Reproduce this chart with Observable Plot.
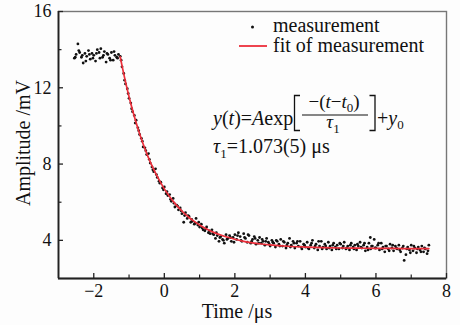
<!DOCTYPE html>
<html>
<head>
<meta charset="utf-8">
<script src="https://cdn.jsdelivr.net/npm/d3@7"></script>
<script src="https://cdn.jsdelivr.net/npm/@observablehq/plot@0.6"></script>
<style>
  html, body { margin: 0; padding: 0; background: #fdfdfd; }
  #chart svg { display: block; }
  #chart svg text { font-family: 'Liberation Serif', 'Times New Roman', serif; }
</style>
</head>
<body>
<div id="chart"></div>
<script>
// ---- data ----
const xTicks = [-2, 0, 2, 4, 6, 8];
const xMinorTicks = [-1, 1, 3, 5, 7];
const yTicks = [4, 8, 12, 16];
const yMinorTicks = [6, 10, 14];

const measTime = [
  -2.55,-2.50,-2.45,-2.40,-2.35,-2.30,-2.25,-2.20,-2.15,-2.10,-2.05,-2.00,-1.95,-1.90,-1.85,-1.80,-1.75,-1.70,-1.65,-1.60,-1.55,-1.50,-1.45,-1.40,-1.35,-1.30,-1.25,
  -1.20,-1.15,-1.10,-1.05,-1.00,-0.95,-0.90,-0.85,-0.80,-0.75,-0.70,-0.65,-0.60,-0.55,-0.50,-0.45,-0.40,-0.35,-0.30,-0.25,-0.20,-0.15,-0.10,-0.05,
  0.00,0.05,0.10,0.15,0.20,0.25,0.30,0.35,0.40,0.45,0.50,0.55,0.60,0.65,0.70,0.75,0.80,0.85,0.90,0.95,
  1.00,1.05,1.10,1.15,1.20,1.25,1.30,1.35,1.40,1.45,1.50,1.55,1.60,1.65,1.70,1.75,1.80,1.85,1.90,1.95,
  2.00,2.05,2.10,2.15,2.20,2.25,2.30,2.35,2.40,2.45,2.50,2.55,2.60,2.65,2.70,2.75,2.80,2.85,2.90,2.95,
  3.00,3.05,3.10,3.15,3.20,3.25,3.30,3.35,3.40,3.45,3.50,3.55,3.60,3.65,3.70,3.75,3.80,3.85,3.90,3.95,
  4.00,4.05,4.10,4.15,4.20,4.25,4.30,4.35,4.40,4.45,4.50,4.55,4.60,4.65,4.70,4.75,4.80,4.85,4.90,4.95,
  5.00,5.05,5.10,5.15,5.20,5.25,5.30,5.35,5.40,5.45,5.50,5.55,5.60,5.65,5.70,5.75,5.80,5.84,5.85,5.90,5.95,
  6.00,6.05,6.10,6.15,6.20,6.25,6.30,6.35,6.40,6.45,6.50,6.55,6.60,6.65,6.70,6.75,6.80,6.85,6.90,6.95,
  7.00,7.05,7.10,7.15,7.20,7.25,7.30,7.35,7.40,7.45,7.50,
  -2.525,-2.425,-2.325,-2.225,-2.125,-2.025,-1.925,-1.825,-1.725,-1.625,-1.525,-1.425,-1.325,
  -1.225,-1.125,-1.025,-0.925,-0.825,-0.725,-0.625,-0.525,-0.425,-0.325,-0.225,-0.125,-0.025,
  0.075,0.175,0.275,0.375,0.475,0.575,0.675,0.775,0.875,0.975,1.075,1.175,1.275,1.375,1.475,1.575,1.675,1.775,1.875,1.975,
  2.075,2.175,2.275,2.375,2.475,2.575,2.675,2.775,2.875,2.975,3.075,3.175,3.275,3.375,3.475,3.575,3.675,3.775,3.875,3.975,
  4.075,4.175,4.275,4.375,4.475,4.575,4.675,4.775,4.875,4.975,5.075,5.175,5.275,5.375,5.475,5.575,5.675,5.775,5.875,5.975,
  6.075,6.175,6.275,6.375,6.475,6.575,6.675,6.775,6.875,6.975,7.075,7.175,7.275,7.375,7.475
];
const measAmp = [
  13.55,13.75,14.30,13.85,13.60,13.30,13.80,13.65,13.95,13.50,13.80,13.70,13.40,14.00,13.85,14.05,13.60,13.90,13.35,13.75,13.55,13.85,13.45,13.70,13.60,13.75,13.65,
  13.10,12.75,12.20,11.95,11.45,11.20,10.75,10.55,10.30,9.90,9.55,9.35,8.90,8.85,8.50,8.55,8.05,7.85,7.60,7.75,7.30,7.10,7.05,6.75,
  6.80,6.45,6.35,6.40,6.05,6.20,5.75,5.85,5.60,5.70,5.40,4.95,5.45,5.15,5.25,4.95,5.00,4.85,5.15,4.80,
  4.70,4.85,4.55,4.50,4.70,4.40,4.35,4.55,4.30,4.10,4.25,3.95,4.20,4.05,3.85,4.30,4.10,4.25,3.95,4.15,
  4.30,4.05,4.40,4.20,3.95,4.35,4.10,3.90,4.25,3.85,4.05,4.20,3.80,4.00,4.15,3.85,3.95,3.75,4.10,3.90,
  3.70,4.00,3.85,3.65,3.95,3.80,4.05,3.70,3.90,3.60,3.85,4.10,3.75,3.95,3.60,3.85,3.70,3.95,3.55,3.80,
  3.65,3.90,3.55,3.75,4.00,3.60,3.80,3.50,3.70,3.95,3.65,3.80,3.55,3.90,3.70,3.50,3.85,3.65,3.75,3.55,
  3.80,3.60,3.90,3.55,3.70,3.50,3.85,3.65,3.75,3.50,3.70,3.90,3.60,3.75,3.45,3.65,3.85,4.15,3.55,3.70,4.05,
  3.60,3.75,3.50,3.85,3.65,3.40,3.70,3.55,3.80,3.60,3.45,3.70,3.55,3.75,3.40,3.60,2.95,3.25,3.65,3.50,
  3.75,3.45,3.60,3.35,3.65,3.50,3.70,3.40,3.55,3.30,3.75,
  13.60,13.95,13.70,13.40,13.75,13.55,13.80,13.55,13.70,13.80,13.45,13.90,13.55,
  13.45,12.40,11.70,10.90,10.15,9.75,9.20,8.70,8.25,7.70,7.45,7.00,6.65,
  6.55,6.15,5.95,5.80,5.55,5.30,5.30,5.10,4.90,4.95,4.65,4.60,4.50,4.35,4.40,4.15,4.00,4.05,4.15,3.90,
  4.25,4.00,4.15,4.30,3.95,4.10,3.85,4.05,3.95,3.80,3.90,4.00,3.70,3.95,3.75,3.65,3.85,3.95,3.65,3.75,
  3.60,3.85,3.70,3.95,3.55,3.70,3.60,3.75,3.55,3.85,3.70,3.60,3.75,3.55,3.80,3.65,3.85,3.50,3.70,3.60,
  3.85,3.55,3.70,3.45,3.75,3.60,3.50,3.70,3.55,3.35,3.70,3.55,3.40,3.60,3.45
];

const fitTime = [-1.25,-1.2,-1.1,-1.0,-0.9,-0.8,-0.7,-0.6,-0.5,-0.4,-0.3,-0.2,-0.1,0,0.1,0.2,0.3,0.4,0.5,0.6,0.7,0.8,0.9,1.0,1.2,1.4,1.6,1.8,2.0,2.25,2.5,2.75,3.0,3.5,4.0,4.5,5.0,5.5,6.0,6.5,7.0,7.5];
const fitAmp  = [13.62,13.16,12.31,11.53,10.82,10.18,9.59,9.05,8.56,8.12,7.72,7.35,7.01,6.70,6.43,6.17,5.94,5.73,5.54,5.36,5.20,5.06,4.93,4.81,4.60,4.42,4.28,4.16,4.06,3.95,3.87,3.81,3.76,3.69,3.65,3.62,3.60,3.59,3.58,3.575,3.57,3.57];

const measurement = measTime.map((t, i) => ({t, v: measAmp[i]}));
const fit = fitTime.map((t, i) => ({t, v: fitAmp[i]}));

const FONT = "'Liberation Serif', 'Times New Roman', serif";
const RED = "#ec2f3b";
const W = 460, H = 325, mL = 58, mR = 14, mT = 11, mB = 47;
const plotW = W - mL - mR, plotH = H - mT - mB;

const chart = Plot.plot({
  width: W, height: H,
  marginLeft: mL, marginRight: mR, marginTop: mT, marginBottom: mB,
  style: {fontFamily: FONT, fontSize: "18px", color: "#111", background: "transparent"},
  x: {domain: [-3, 8]},
  y: {domain: [2, 16]},
  marks: [
    Plot.frame({stroke: "#777", strokeWidth: 1.4}),
    Plot.ruleX([-3], {stroke: "#222", strokeWidth: 1.8}),
    Plot.ruleY([2], {stroke: "#222", strokeWidth: 1.8}),
    Plot.tickX(xTicks, {x: d => d, insetTop: plotH - 5, stroke: "#222", strokeWidth: 1.3}),
    Plot.tickX(xMinorTicks, {x: d => d, insetTop: plotH - 3.5, stroke: "#222", strokeWidth: 1.2}),
    Plot.tickY(yTicks, {y: d => d, insetRight: plotW - 5, stroke: "#222", strokeWidth: 1.3}),
    Plot.tickY(yMinorTicks, {y: d => d, insetRight: plotW - 3.5, stroke: "#222", strokeWidth: 1.2}),
    Plot.axisX({ticks: xTicks, tickSize: 0, tickPadding: 6, label: null, tickFormat: d => d < 0 ? "\u2212" + Math.abs(d) : String(d), fontSize: 18}),
    Plot.axisY({ticks: yTicks, tickSize: 0, tickPadding: 7, label: null, fontSize: 18}),
    Plot.dot(measurement, {x: "t", y: "v", r: 1.4, fill: "#111", stroke: null}),
    Plot.line(fit, {x: "t", y: "v", stroke: RED, strokeWidth: 1.7, curve: "monotone-x"})
  ]
});
document.getElementById("chart").appendChild(chart);

// ---- annotations: titles, legend, formula ----
const svg = d3.select(chart);
const g = svg.append("g")
  .attr("font-size", 20)
  .attr("fill", "#111")
  .attr("text-anchor", "start")
  .style("font-family", FONT);

g.append("text").attr("x", 237).attr("y", 318).attr("text-anchor", "middle").text("Time /\u03bcs");
g.append("text").attr("transform", "translate(30,143) rotate(-90)").attr("text-anchor", "middle").text("Amplitude /mV");

// legend
g.append("circle").attr("cx", 252.5).attr("cy", 27).attr("r", 1.5).attr("fill", "#111");
g.append("text").attr("x", 273).attr("y", 31.5).text("measurement");
g.append("line").attr("x1", 239).attr("x2", 267).attr("y1", 46).attr("y2", 46).attr("stroke", RED).attr("stroke-width", 1.8);
g.append("text").attr("x", 273).attr("y", 52).text("fit of measurement");

// formula
const f1 = g.append("text").attr("x", 213).attr("y", 125);
f1.append("tspan").attr("font-style", "italic").text("y");
f1.append("tspan").text("(");
f1.append("tspan").attr("font-style", "italic").text("t");
f1.append("tspan").text(")=");
f1.append("tspan").attr("font-style", "italic").text("A");
f1.append("tspan").text("exp");

g.append("path").attr("d", "M300,95.5H294.5V130.5H300").attr("fill", "none").attr("stroke", "#111").attr("stroke-width", 1.3);
g.append("path").attr("d", "M369.5,95.5H375V130.5H369.5").attr("fill", "none").attr("stroke", "#111").attr("stroke-width", 1.3);

const num = g.append("text").attr("x", 334).attr("y", 108).attr("font-size", 19).attr("text-anchor", "middle");
num.append("tspan").text("\u2212(");
num.append("tspan").attr("font-style", "italic").text("t");
num.append("tspan").text("\u2212");
num.append("tspan").attr("font-style", "italic").text("t");
num.append("tspan").attr("font-size", 13).attr("dy", 4).text("0");
num.append("tspan").attr("dy", -4).text(")");

g.append("line").attr("x1", 302).attr("x2", 368).attr("y1", 115).attr("y2", 115).attr("stroke", "#111").attr("stroke-width", 1.1);

const den = g.append("text").attr("x", 333).attr("y", 128).attr("font-size", 19).attr("text-anchor", "middle");
den.append("tspan").attr("font-style", "italic").text("\u03c4");
den.append("tspan").attr("font-size", 13).attr("dy", 5).text("1");

const f2 = g.append("text").attr("x", 377).attr("y", 125);
f2.append("tspan").text("+");
f2.append("tspan").attr("font-style", "italic").text("y");
f2.append("tspan").attr("font-size", 13).attr("dy", 4).text("0");

const f3 = g.append("text").attr("x", 213).attr("y", 153);
f3.append("tspan").attr("font-style", "italic").text("\u03c4");
f3.append("tspan").attr("font-size", 13).attr("dy", 5).text("1");
f3.append("tspan").attr("dy", -5).text("=1.073(5) \u03bcs");
</script>
</body>
</html>
